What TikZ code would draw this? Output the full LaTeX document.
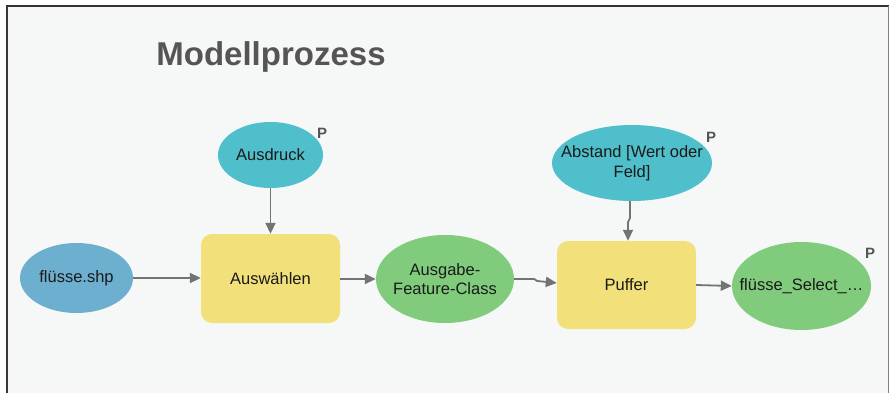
\documentclass[tikz,border=0pt]{standalone}
\usepackage{fontspec}
\setmainfont{Liberation Sans}
\usetikzlibrary{shapes.geometric,arrows.meta}
\definecolor{bgc}{HTML}{F6F7F7}
\definecolor{teal}{HTML}{50BFCC}
\definecolor{blueish}{HTML}{6DAFCF}
\definecolor{greenc}{HTML}{80CC7C}
\definecolor{yellowc}{HTML}{F2E17A}
\definecolor{arrowc}{HTML}{737373}
\definecolor{titlec}{HTML}{555555}
\definecolor{textc}{HTML}{1A1A1A}
\tikzset{
  txt/.style={font=\fontsize{16.5}{19.5}\selectfont, text=textc, align=center, inner sep=0pt},
  ell/.style={ellipse, draw=none, inner sep=0pt},
  proc/.style={rectangle, rounded corners=11pt, txt, fill=yellowc, minimum width=139pt, minimum height=89pt},
  plabel/.style={font=\fontsize{15}{15}\selectfont\bfseries, text=titlec, inner sep=0pt},
  conn/.style={draw=arrowc, line width=1.8pt, -{Triangle[length=11pt,width=10pt]}}
}
\begin{document}
\begin{tikzpicture}[x=1pt,y=-1pt]
\useasboundingbox (0,0) rectangle (890,393);
\fill[white] (0,0) rectangle (890,393);
\fill[bgc] (7,6) rectangle (888.5,393);
\draw[line width=2.5pt, draw=black!78] (7,5) -- (7,393);
\draw[line width=2pt, draw=black!80] (6,6) -- (889,6);
\draw[line width=1.2pt, draw=black!50] (888.5,6) -- (888.5,393);

\node[font=\fontsize{33}{33}\selectfont\bfseries, text=titlec, inner sep=0pt] (title) at (271,57) {Modellprozess};

\node[ell, fill=teal, minimum width=105pt, minimum height=66pt] (ausdruck) at (270.5,155) {};
\node[txt] (ausdrucktxt) at (ausdruck.center) {Ausdruck};
\node[plabel] (p1) at (322,133) {P};

\node[ell, fill=blueish, minimum width=113pt, minimum height=70pt] (fluesse) at (76.5,278) {};
\node[txt] (fluessetxt) at (fluesse.center) {flüsse.shp};

\node[proc] (auswaehlen) at (270.5,278.5) {Auswählen};

\node[ell, fill=greenc, minimum width=138pt, minimum height=88pt] (ausgabe) at (445,279) {};
\node[txt] (ausgabetxt) at (ausgabe.center) {Ausgabe-\\Feature-Class};

\node[proc, minimum height=88pt] (puffer) at (626.5,285) {Puffer};

\node[ell, fill=teal, minimum width=160pt, minimum height=76pt] (abstand) at (632,163) {};
\node[txt] (abstandtxt) at (abstand.center) {Abstand [Wert oder\\Feld]};
\node[plabel] (p2) at (711,137) {P};

\node[ell, fill=greenc, minimum width=139pt, minimum height=88pt] (select) at (801.5,286) {};
\node[txt] (selecttxt) at (select.center) {flüsse\_Select\_…};
\node[plabel] (p3) at (870,253) {P};

\draw[conn] (fluesse.east) -- (auswaehlen.west |- fluesse.east);
\draw[conn] (ausdruck.south) -- (auswaehlen.north);
\draw[conn] (auswaehlen.east |- ausgabe.west) -- (ausgabe.west);
\draw[conn] (ausgabe.east) -- ++(20,0) -- ++(3,2) -- (puffer.west |- 0,283);
\draw[conn] (abstand.south) ++(-2,0) -- ++(0,17) -- ++(-2,4) -- (puffer.north -| 628,0);
\draw[conn] (puffer.east) -- (select.west);
\end{tikzpicture}
\end{document}
